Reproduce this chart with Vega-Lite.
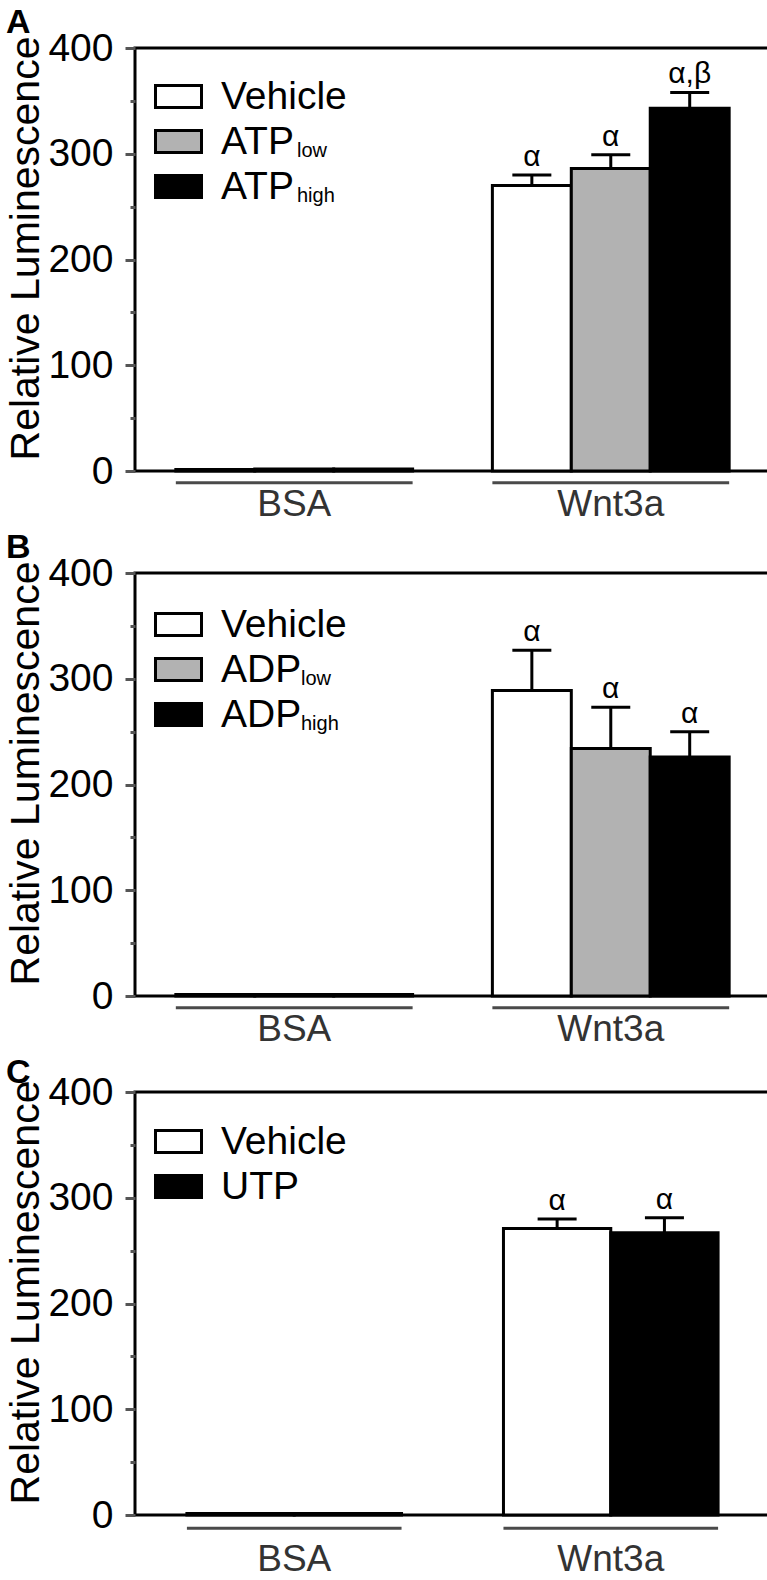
{
  "$schema": "https://vega.github.io/schema/vega-lite/v6.json",
  "padding": {"left": 4, "top": 4, "right": 2, "bottom": 0},
  "config": {
    "font": "Liberation Sans",
    "view": {"stroke": "#000", "strokeWidth": 3},
    "axis": {"grid": false},
    "title": {"fontSize": 34, "fontWeight": "bold", "anchor": "start", "frame": "bounds", "color": "#000"}
  },
  "spacing": 5,
  "resolve": {
    "scale": {"fill": "independent", "shape": "independent", "xOffset": "independent"},
    "legend": {"fill": "independent", "shape": "independent"}
  },
  "vconcat": [
    {
      "title": {"text": "A", "offset": -11},
      "width": 635, "height": 423,
      "data": {"values": [
        {"group": "BSA", "treat": "Vehicle", "sub": "v", "mean": 1.5, "hi": null, "sig": null},
        {"group": "BSA", "treat": "ATP low", "sub": "low", "mean": 2, "hi": null, "sig": null},
        {"group": "BSA", "treat": "ATP high", "sub": "high", "mean": 2, "hi": null, "sig": null},
        {"group": "Wnt3a", "treat": "Vehicle", "sub": "v", "mean": 270, "hi": 280, "sig": "α"},
        {"group": "Wnt3a", "treat": "ATP low", "sub": "low", "mean": 286, "hi": 299, "sig": "α"},
        {"group": "Wnt3a", "treat": "ATP high", "sub": "high", "mean": 343, "hi": 358, "sig": "α,β"}
      ]},
      "layer": [
        {
          "data": {"values": [{"group": "BSA"}, {"group": "Wnt3a"}]},
          "mark": {"type": "bar", "color": "#4a4a4a"},
          "encoding": {
            "x": {"field": "group", "type": "nominal", "title": null, "scale": {"paddingInner": 0.252, "paddingOuter": 0.129},
              "axis": {"labelAngle": 0, "labelAlign": "center", "labelBaseline": "top", "domain": false, "ticks": false, "labelFontSize": 37, "labelColor": "#333", "labelPadding": 15}},
            "y": {"datum": -9.6, "type": "quantitative"},
            "y2": {"datum": -12.6}
          }
        },
        {
          "mark": {"type": "bar", "stroke": "#000", "strokeWidth": 3},
          "encoding": {
            "x": {"field": "group", "type": "nominal", "title": null,
              "axis": {"labelAngle": 0, "labelAlign": "center", "labelBaseline": "top", "domain": false, "ticks": false, "labelFontSize": 37, "labelColor": "#333", "labelPadding": 15}},
            "xOffset": {"field": "treat", "type": "nominal", "scale": {"domain": ["Vehicle", "ATP low", "ATP high"], "paddingInner": 0, "paddingOuter": 0}},
            "y": {"field": "mean", "type": "quantitative", "title": "Relative Luminescence",
              "scale": {"domain": [0, 400], "nice": false},
              "axis": {"values": [0, 50, 100, 150, 200, 250, 300, 350, 400],
                "labelExpr": "datum.value % 100 === 0 ? datum.label : ''",
                "tickSize": {"condition": {"test": "datum.value % 100 === 0", "value": 10}, "value": 5},
                "tickWidth": 3, "tickColor": "#555", "domain": false,
                "labelFontSize": 39, "labelColor": "#000", "labelPadding": 12,
                "titleFontSize": 41, "titleFontWeight": "normal", "titleColor": "#000", "titlePadding": 0, "titleY": 200}},
            "fill": {"field": "treat", "type": "nominal",
              "scale": {"domain": ["Vehicle", "ATP low", "ATP high"], "range": ["#ffffff", "#b2b2b2", "#000000"]},
              "legend": {"orient": "none", "legendX": 19, "legendY": 24, "title": null,
                "symbolType": "M-1,-0.48H1V0.48H-1Z", "symbolSize": 2116, "symbolStrokeColor": "#000", "symbolStrokeWidth": 3,
                "labelFontSize": 39, "labelColor": "#000", "labelOffset": 18, "rowPadding": 0,
                "labelExpr": "split(datum.label, ' ')[0]"}}
          }
        },
        {
          "transform": [{"filter": "datum.hi != null"}],
          "mark": {"type": "rule", "strokeWidth": 3, "color": "#000"},
          "encoding": {
            "x": {"field": "group", "type": "nominal"},
            "xOffset": {"field": "treat", "type": "nominal"},
            "y": {"field": "mean", "type": "quantitative"},
            "y2": {"field": "hi"}
          }
        },
        {
          "transform": [{"filter": "datum.hi != null"}],
          "mark": {"type": "tick", "thickness": 3, "size": 39, "color": "#000", "opacity": 1},
          "encoding": {
            "x": {"field": "group", "type": "nominal"},
            "xOffset": {"field": "treat", "type": "nominal"},
            "y": {"field": "hi", "type": "quantitative"}
          }
        },
        {
          "transform": [{"filter": "datum.sig != null"}],
          "mark": {"type": "text", "baseline": "alphabetic", "dy": -9, "fontSize": 30, "color": "#000"},
          "encoding": {
            "x": {"field": "group", "type": "nominal"},
            "xOffset": {"field": "treat", "type": "nominal"},
            "y": {"field": "hi", "type": "quantitative"},
            "text": {"field": "sig"}
          }
        },
        {
          "mark": {"type": "point", "opacity": 0},
          "encoding": {
            "x": {"field": "group", "type": "nominal"},
            "xOffset": {"field": "treat", "type": "nominal"},
            "y": {"field": "mean", "type": "quantitative"},
            "shape": {"field": "sub", "type": "nominal",
              "scale": {"domain": ["v", "low", "high"], "range": ["M-1,-0.95H1V0.95H-1Z", "M-1,-0.95H1V0.95H-1Z", "M-1,-0.95H1V0.95H-1Z"]},
              "legend": {"orient": "none", "legendX": 98, "legendY": 35, "title": null,
                "symbolSize": 2116, "symbolOpacity": 0, "symbolStrokeWidth": 0,
                "labelFontSize": 20, "labelColor": "#000", "labelOffset": 18, "rowPadding": 0,
                "labelExpr": "datum.label == 'v' ? '' : datum.label"}}
          }
        }
      ]
    },
    {
      "title": {"text": "B", "offset": -11},
      "width": 635, "height": 423,
      "data": {"values": [
        {"group": "BSA", "treat": "Vehicle", "sub": "v", "mean": 1.5, "hi": null, "sig": null},
        {"group": "BSA", "treat": "ADP low", "sub": "low", "mean": 1.5, "hi": null, "sig": null},
        {"group": "BSA", "treat": "ADP high", "sub": "high", "mean": 1.5, "hi": null, "sig": null},
        {"group": "Wnt3a", "treat": "Vehicle", "sub": "v", "mean": 289, "hi": 327, "sig": "α"},
        {"group": "Wnt3a", "treat": "ADP low", "sub": "low", "mean": 234, "hi": 273, "sig": "α"},
        {"group": "Wnt3a", "treat": "ADP high", "sub": "high", "mean": 226, "hi": 250, "sig": "α"}
      ]},
      "layer": [
        {
          "data": {"values": [{"group": "BSA"}, {"group": "Wnt3a"}]},
          "mark": {"type": "bar", "color": "#4a4a4a"},
          "encoding": {
            "x": {"field": "group", "type": "nominal", "title": null, "scale": {"paddingInner": 0.252, "paddingOuter": 0.129},
              "axis": {"labelAngle": 0, "labelAlign": "center", "labelBaseline": "top", "domain": false, "ticks": false, "labelFontSize": 37, "labelColor": "#333", "labelPadding": 15}},
            "y": {"datum": -9.6, "type": "quantitative"},
            "y2": {"datum": -12.6}
          }
        },
        {
          "mark": {"type": "bar", "stroke": "#000", "strokeWidth": 3},
          "encoding": {
            "x": {"field": "group", "type": "nominal", "title": null,
              "axis": {"labelAngle": 0, "labelAlign": "center", "labelBaseline": "top", "domain": false, "ticks": false, "labelFontSize": 37, "labelColor": "#333", "labelPadding": 15}},
            "xOffset": {"field": "treat", "type": "nominal", "scale": {"domain": ["Vehicle", "ADP low", "ADP high"], "paddingInner": 0, "paddingOuter": 0}},
            "y": {"field": "mean", "type": "quantitative", "title": "Relative Luminescence",
              "scale": {"domain": [0, 400], "nice": false},
              "axis": {"values": [0, 50, 100, 150, 200, 250, 300, 350, 400],
                "labelExpr": "datum.value % 100 === 0 ? datum.label : ''",
                "tickSize": {"condition": {"test": "datum.value % 100 === 0", "value": 10}, "value": 5},
                "tickWidth": 3, "tickColor": "#555", "domain": false,
                "labelFontSize": 39, "labelColor": "#000", "labelPadding": 12,
                "titleFontSize": 41, "titleFontWeight": "normal", "titleColor": "#000", "titlePadding": 0, "titleY": 200}},
            "fill": {"field": "treat", "type": "nominal",
              "scale": {"domain": ["Vehicle", "ADP low", "ADP high"], "range": ["#ffffff", "#b2b2b2", "#000000"]},
              "legend": {"orient": "none", "legendX": 19, "legendY": 27, "title": null,
                "symbolType": "M-1,-0.48H1V0.48H-1Z", "symbolSize": 2116, "symbolStrokeColor": "#000", "symbolStrokeWidth": 3,
                "labelFontSize": 39, "labelColor": "#000", "labelOffset": 18, "rowPadding": 0,
                "labelExpr": "split(datum.label, ' ')[0]"}}
          }
        },
        {
          "transform": [{"filter": "datum.hi != null"}],
          "mark": {"type": "rule", "strokeWidth": 3, "color": "#000"},
          "encoding": {
            "x": {"field": "group", "type": "nominal"},
            "xOffset": {"field": "treat", "type": "nominal"},
            "y": {"field": "mean", "type": "quantitative"},
            "y2": {"field": "hi"}
          }
        },
        {
          "transform": [{"filter": "datum.hi != null"}],
          "mark": {"type": "tick", "thickness": 3, "size": 39, "color": "#000", "opacity": 1},
          "encoding": {
            "x": {"field": "group", "type": "nominal"},
            "xOffset": {"field": "treat", "type": "nominal"},
            "y": {"field": "hi", "type": "quantitative"}
          }
        },
        {
          "transform": [{"filter": "datum.sig != null"}],
          "mark": {"type": "text", "baseline": "alphabetic", "dy": -9, "fontSize": 30, "color": "#000"},
          "encoding": {
            "x": {"field": "group", "type": "nominal"},
            "xOffset": {"field": "treat", "type": "nominal"},
            "y": {"field": "hi", "type": "quantitative"},
            "text": {"field": "sig"}
          }
        },
        {
          "mark": {"type": "point", "opacity": 0},
          "encoding": {
            "x": {"field": "group", "type": "nominal"},
            "xOffset": {"field": "treat", "type": "nominal"},
            "y": {"field": "mean", "type": "quantitative"},
            "shape": {"field": "sub", "type": "nominal",
              "scale": {"domain": ["v", "low", "high"], "range": ["M-1,-0.95H1V0.95H-1Z", "M-1,-0.95H1V0.95H-1Z", "M-1,-0.95H1V0.95H-1Z"]},
              "legend": {"orient": "none", "legendX": 102, "legendY": 38, "title": null,
                "symbolSize": 2116, "symbolOpacity": 0, "symbolStrokeWidth": 0,
                "labelFontSize": 20, "labelColor": "#000", "labelOffset": 18, "rowPadding": 0,
                "labelExpr": "datum.label == 'v' ? '' : datum.label"}}
          }
        }
      ]
    },
    {
      "title": {"text": "C", "offset": -17},
      "width": 635, "height": 423,
      "data": {"values": [
        {"group": "BSA", "treat": "Vehicle", "mean": 1.5, "hi": null, "sig": null},
        {"group": "BSA", "treat": "UTP", "mean": 1.5, "hi": null, "sig": null},
        {"group": "Wnt3a", "treat": "Vehicle", "mean": 271, "hi": 280, "sig": "α"},
        {"group": "Wnt3a", "treat": "UTP", "mean": 267, "hi": 281, "sig": "α"}
      ]},
      "layer": [
        {
          "data": {"values": [{"group": "BSA"}, {"group": "Wnt3a"}]},
          "mark": {"type": "bar", "color": "#4a4a4a"},
          "encoding": {
            "x": {"field": "group", "type": "nominal", "title": null, "scale": {"paddingInner": 0.322, "paddingOuter": 0.164},
              "axis": {"labelAngle": 0, "labelAlign": "center", "labelBaseline": "top", "domain": false, "ticks": false, "labelFontSize": 37, "labelColor": "#333", "labelPadding": 26}},
            "y": {"datum": -11, "type": "quantitative"},
            "y2": {"datum": -14}
          }
        },
        {
          "mark": {"type": "bar", "stroke": "#000", "strokeWidth": 3},
          "encoding": {
            "x": {"field": "group", "type": "nominal", "title": null,
              "axis": {"labelAngle": 0, "labelAlign": "center", "labelBaseline": "top", "domain": false, "ticks": false, "labelFontSize": 37, "labelColor": "#333", "labelPadding": 26}},
            "xOffset": {"field": "treat", "type": "nominal", "scale": {"domain": ["Vehicle", "UTP"], "paddingInner": 0, "paddingOuter": 0}},
            "y": {"field": "mean", "type": "quantitative", "title": "Relative Luminescence",
              "scale": {"domain": [0, 400], "nice": false},
              "axis": {"values": [0, 50, 100, 150, 200, 250, 300, 350, 400],
                "labelExpr": "datum.value % 100 === 0 ? datum.label : ''",
                "tickSize": {"condition": {"test": "datum.value % 100 === 0", "value": 10}, "value": 5},
                "tickWidth": 3, "tickColor": "#555", "domain": false,
                "labelFontSize": 39, "labelColor": "#000", "labelPadding": 12,
                "titleFontSize": 41, "titleFontWeight": "normal", "titleColor": "#000", "titlePadding": 0, "titleY": 200}},
            "fill": {"field": "treat", "type": "nominal",
              "scale": {"domain": ["Vehicle", "UTP"], "range": ["#ffffff", "#000000"]},
              "legend": {"orient": "none", "legendX": 19, "legendY": 25, "title": null,
                "symbolType": "M-1,-0.48H1V0.48H-1Z", "symbolSize": 2116, "symbolStrokeColor": "#000", "symbolStrokeWidth": 3,
                "labelFontSize": 39, "labelColor": "#000", "labelOffset": 18, "rowPadding": 0}}
          }
        },
        {
          "transform": [{"filter": "datum.hi != null"}],
          "mark": {"type": "rule", "strokeWidth": 3, "color": "#000"},
          "encoding": {
            "x": {"field": "group", "type": "nominal"},
            "xOffset": {"field": "treat", "type": "nominal"},
            "y": {"field": "mean", "type": "quantitative"},
            "y2": {"field": "hi"}
          }
        },
        {
          "transform": [{"filter": "datum.hi != null"}],
          "mark": {"type": "tick", "thickness": 3, "size": 39, "color": "#000", "opacity": 1},
          "encoding": {
            "x": {"field": "group", "type": "nominal"},
            "xOffset": {"field": "treat", "type": "nominal"},
            "y": {"field": "hi", "type": "quantitative"}
          }
        },
        {
          "transform": [{"filter": "datum.sig != null"}],
          "mark": {"type": "text", "baseline": "alphabetic", "dy": -9, "fontSize": 30, "color": "#000"},
          "encoding": {
            "x": {"field": "group", "type": "nominal"},
            "xOffset": {"field": "treat", "type": "nominal"},
            "y": {"field": "hi", "type": "quantitative"},
            "text": {"field": "sig"}
          }
        }
      ]
    }
  ]
}
